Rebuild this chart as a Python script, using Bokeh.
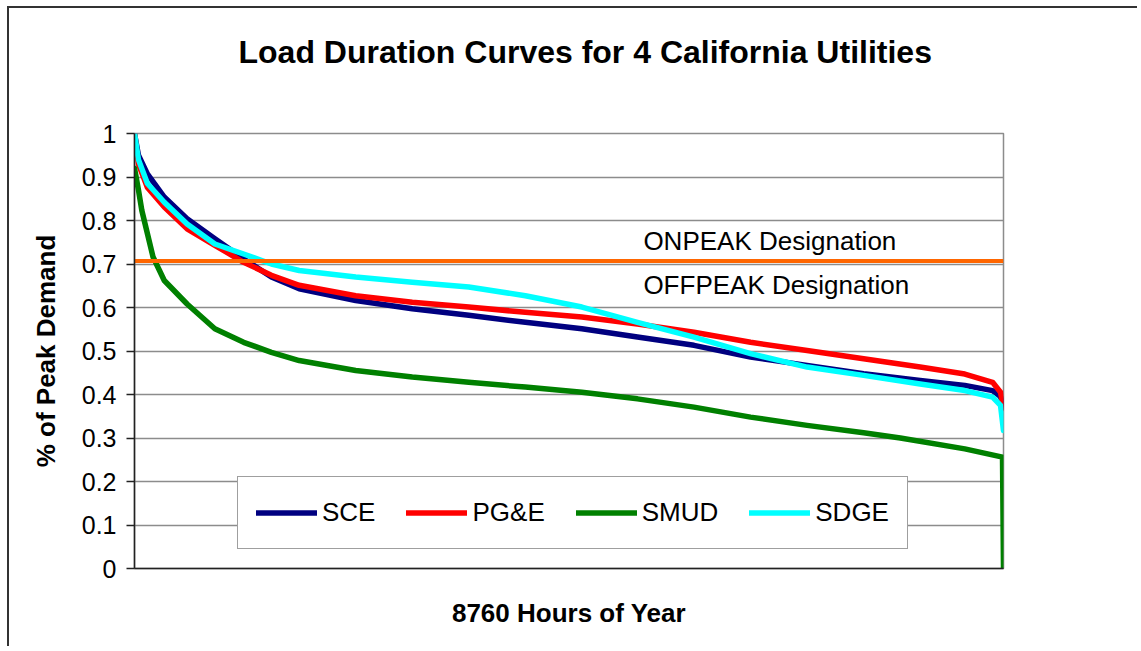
from bokeh.plotting import figure
from bokeh.models import (Range1d, FixedTicker, CustomJSTickFormatter, Legend, LegendItem, Label, Title)
from bokeh.embed import file_html
from bokeh.resources import INLINE

# ---------------- data ----------------
hours = [0, 40, 130, 300, 530, 810, 1100, 1380, 1660, 2230, 2800, 3370, 3940, 4510,
         5070, 5640, 6210, 6780, 7350, 7920, 8370, 8650, 8730, 8760]

sce = [1.0, 0.95, 0.907, 0.854, 0.804, 0.758, 0.712, 0.670, 0.643, 0.616, 0.597, 0.582, 0.566, 0.551,
       0.532, 0.513, 0.486, 0.467, 0.448, 0.432, 0.421, 0.409, 0.395, 0.37]
pge = [1.0, 0.93, 0.876, 0.831, 0.781, 0.743, 0.704, 0.674, 0.651, 0.627, 0.612, 0.601, 0.589, 0.578,
       0.562, 0.543, 0.520, 0.501, 0.482, 0.463, 0.447, 0.428, 0.405, 0.368]
sdge = [1.0, 0.94, 0.885, 0.842, 0.792, 0.746, 0.723, 0.700, 0.685, 0.670, 0.658, 0.647, 0.627, 0.601,
        0.566, 0.532, 0.494, 0.463, 0.444, 0.424, 0.409, 0.394, 0.375, 0.317]

smud_hours = [0, 40, 74, 187, 300, 530, 810, 1100, 1380, 1660, 2230, 2800, 3370, 3940, 4510,
              5070, 5640, 6210, 6780, 7350, 7720, 8370, 8750, 8760]
smud = [0.92, 0.87, 0.823, 0.716, 0.662, 0.608, 0.551, 0.520, 0.497, 0.478, 0.455, 0.440, 0.428, 0.417,
        0.405, 0.390, 0.371, 0.348, 0.329, 0.312, 0.300, 0.275, 0.256, 0.0]

peak_hours = [0, 8760]
peak_level = [0.707, 0.707]

y_ticks = [0.0, 0.1, 0.2, 0.3, 0.4, 0.5, 0.6, 0.7, 0.8, 0.9, 1.0]
y_tick_labels = ["0", "0.1", "0.2", "0.3", "0.4", "0.5", "0.6", "0.7", "0.8", "0.9", "1"]

series_names = ["SCE", "PG&E", "SMUD", "SDGE"]
series_colors = ["#000080", "#FF0000", "#008000", "#00FFFF"]

title_text = "Load Duration Curves for 4 California Utilities"
x_label = "8760 Hours of Year"
y_label = "% of Peak Demand"
on_text = "ONPEAK Designation"
off_text = "OFFPEAK Designation"

FONT = "Liberation Sans"

# ---------------- figure ----------------
W, H = 1130, 640
p = figure(width=W, height=H, output_backend="svg", toolbar_location=None,
           x_range=Range1d(0, 8760), y_range=Range1d(0, 1),
           min_border_left=125, min_border_right=W - 994,
           min_border_top=125, min_border_bottom=H - 560)
p.styles = {"margin-left": "7px", "margin-top": "6px",
            "border-left": "2px solid #333333", "border-top": "2px solid #333333"}
p.background_fill_color = "white"
p.border_fill_color = "white"
p.outline_line_color = "#8c8c8c"
p.outline_line_width = 1.5

# invisible spacer between the title and the plot area
p.add_layout(Title(text=" ", text_font_size="10px", standoff=46), "above")

p.title.text = title_text
p.title.text_font = FONT
p.title.text_font_style = "bold"
p.title.text_font_size = "32px"
p.title.text_color = "black"
p.title.align = "left"
p.title.offset = 104
p.title.standoff = 10

# axes
p.xaxis.ticker = FixedTicker(ticks=[])
p.xaxis.major_tick_line_color = None
p.xaxis.minor_tick_line_color = None
p.xaxis.major_label_text_font_size = "0px"
p.xaxis.axis_line_color = "#222222"
p.xaxis.axis_line_width = 1.5
p.xaxis.axis_label = x_label
p.xaxis.axis_label_text_font = FONT
p.xaxis.axis_label_text_font_style = "bold"
p.xaxis.axis_label_text_font_size = "26px"
p.xaxis.axis_label_text_color = "black"
p.xaxis.axis_label_standoff = 29

p.yaxis.ticker = FixedTicker(ticks=y_ticks)
p.yaxis.formatter = CustomJSTickFormatter(args=dict(tvals=y_ticks, tlabels=y_tick_labels), code="""
let best = 0; let bd = 1e9;
for (let i = 0; i < tvals.length; i++) { const d = Math.abs(tvals[i] - tick); if (d < bd) { bd = d; best = i; } }
return tlabels[best];
""")
p.yaxis.minor_tick_line_color = None
p.yaxis.major_tick_in = 0
p.yaxis.major_tick_out = 8
p.yaxis.major_tick_line_color = "#222222"
p.yaxis.major_tick_line_width = 1.5
p.yaxis.axis_line_color = "#222222"
p.yaxis.axis_line_width = 1.5
p.yaxis.major_label_text_font = FONT
p.yaxis.major_label_text_font_size = "25px"
p.yaxis.major_label_text_color = "black"
p.yaxis.major_label_standoff = 10
p.yaxis.axis_label = y_label
p.yaxis.axis_label_text_font = FONT
p.yaxis.axis_label_text_font_style = "bold"
p.yaxis.axis_label_text_font_size = "26px"
p.yaxis.axis_label_text_color = "black"
p.yaxis.axis_label_standoff = 18

p.xgrid.grid_line_color = None
p.ygrid.grid_line_color = "#8c8c8c"
p.ygrid.grid_line_width = 1.5

# series
xs_list = [hours, hours, smud_hours, hours]
ys_list = [sce, pge, smud, sdge]
items = []
for name, color, xs, ys in zip(series_names, series_colors, xs_list, ys_list):
    r = p.line(xs, ys, line_color=color, line_width=5.5, line_join="round", line_cap="round")
    items.append(LegendItem(label=name, renderers=[r]))

p.line(peak_hours, peak_level, line_color="#FF6600", line_width=4)

legend = Legend(items=items, orientation="horizontal", location=(103, 19),
                border_line_color="#404040", border_line_width=1.5,
                background_fill_color="white", background_fill_alpha=1.0,
                label_text_font=FONT, label_text_font_size="26px", label_text_color="black",
                glyph_width=61, glyph_height=35, label_height=35,
                padding=18, spacing=31, label_standoff=5, margin=0)
p.add_layout(legend, "center")

# text annotations
p.add_layout(Label(x=5130, y=0.754, text=on_text, text_font=FONT,
                   text_font_size="26px", text_color="black", text_baseline="alphabetic"))
p.add_layout(Label(x=5130, y=0.652, text=off_text, text_font=FONT,
                   text_font_size="26px", text_color="black", text_baseline="alphabetic"))

open("out.html", "w").write(file_html(p, INLINE))
